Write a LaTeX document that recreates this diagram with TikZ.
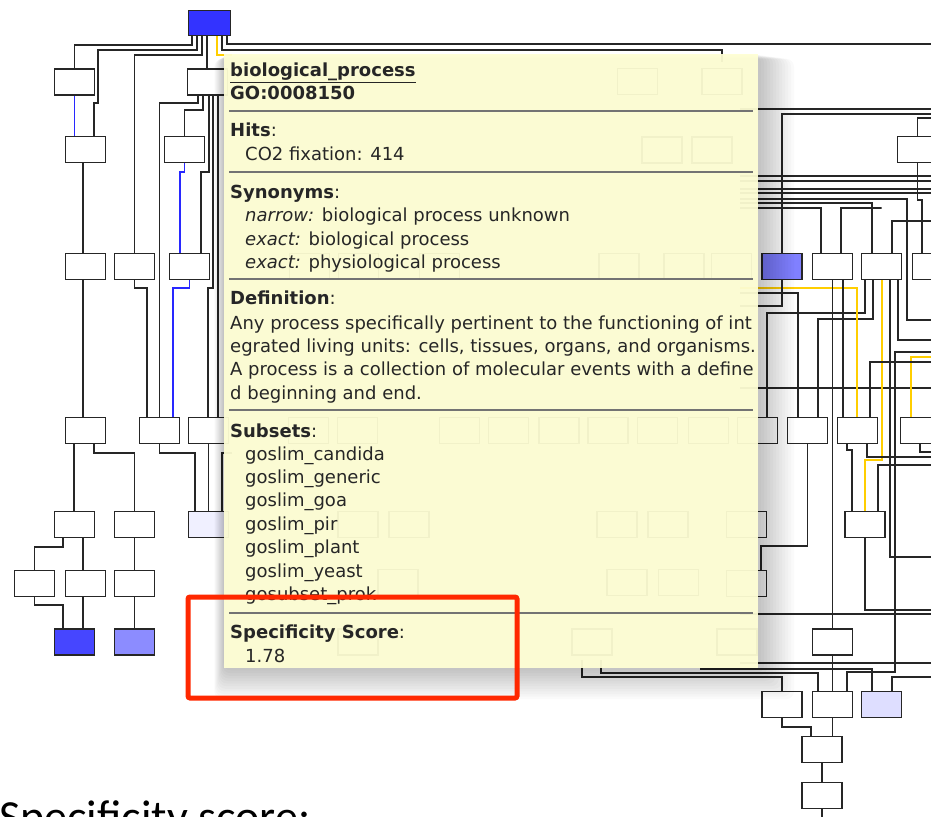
\documentclass[tikz,border=0pt]{standalone}
\usepackage{fontspec}
\newfontfamily\tipfont{DejaVu Sans}
\newfontfamily\slidefont{Carlito}

\definecolor{rootblue}{RGB}{51,51,255}
\definecolor{hitblue}{RGB}{70,70,255}
\definecolor{midblue}{RGB}{140,140,255}
\definecolor{nodeblue}{RGB}{128,128,255}
\definecolor{paleblue}{RGB}{222,222,255}
\definecolor{faintblue}{RGB}{240,240,255}
\definecolor{linkblue}{RGB}{40,40,255}
\definecolor{linkgold}{RGB}{255,206,0}
\definecolor{tipyellow}{RGB}{255,255,212}
\definecolor{markred}{RGB}{255,40,0}
\definecolor{inkgray}{RGB}{38,38,38}

\begin{document}
\begin{tikzpicture}[
        x=1pt, y=-1pt,
        term/.style={draw=black!85, line width=1.5pt, fill=white, minimum width=40pt, minimum height=26pt, inner sep=0pt},
        ghostterm/.style={term, line width=1.2pt},
        edge/.style={draw=black!85, line width=1.5pt},
        blueedge/.style={draw=linkblue, line width=1.3pt},
        goldedge/.style={draw=linkgold, line width=1.3pt},
        tip/.style={anchor=base west, inner sep=0pt, text=inkgray, font=\tipfont\fontsize{18}{22}\selectfont},
        rule/.style={draw=black!55, line width=1.5pt}
    ]
        \useasboundingbox (0,0) rectangle (931,816);
        \clip (0,0) rectangle (931,816);
        \fill[white] (0,0) rectangle (931,816);

        % free ends
        \coordinate (goldin) at (232,55);
        \coordinate (farin) at (722,62);
        \coordinate (westB) at (232,453);
        \coordinate (in582) at (582,660);
        \coordinate (in601) at (601,660);
        \coordinate (in669) at (700,669);
        \coordinate (bottom) at (822,820);
        \foreach \yy in {109,176,181,189,193,199,203,208,288,293,306,388,614,663}
            \coordinate (in\yy) at (740,\yy);
        \foreach \yy in {44,109,114,118,176,181,189,193,221,320,340,352,357,362,388,452,457,465,557,610,614,663,677}
            \coordinate (out\yy) at (935,\yy);

        % left tree
        \node[term, fill=rootblue, minimum width=42pt, minimum height=25pt] (root) at (209.5,23) {};
        \node[term] (A) at (74.5,82) {};
        \node[term] (B) at (207.5,82) {};
        \node[term] (C) at (85.5,149.5) {};
        \node[term] (D) at (184.5,149.5) {};
        \node[term] (n1) at (85.5,266.5) {};
        \node[term] (n2) at (134.5,266.5) {};
        \node[term] (n3) at (189.5,266.5) {};
        \node[term] (m1) at (85.5,430.5) {};
        \node[term] (m2) at (159.5,430.5) {};
        \node[term] (m3) at (208.5,430.5) {};
        \node[term] (k1) at (74.5,524.5) {};
        \node[term] (k2) at (134.5,524.5) {};
        \node[term, fill=faintblue] (k3) at (208.5,524.5) {};
        \node[term] (j1) at (34.5,583.5) {};
        \node[term] (j2) at (85.5,583.5) {};
        \node[term] (j3) at (134.5,583.5) {};
        \node[term, fill=hitblue] (hit1) at (74.5,642) {};
        \node[term, fill=midblue] (hit2) at (134.5,642) {};

        % right tree
        \node[term] (F) at (917.5,149.5) {};
        \node[term, fill=nodeblue] (E) at (782,266.5) {};
        \node[term] (H) at (832.5,266.5) {};
        \node[term] (G) at (881.5,266.5) {};
        \node[term] (S) at (932.5,266.5) {};
        \node[term] (T) at (757.5,430.5) {};
        \node[term] (I) at (807.5,430.5) {};
        \node[term] (K) at (857.5,430.5) {};
        \node[term] (M) at (920.5,430.5) {};
        \node[term] (U) at (746.5,524.5) {};
        \node[term] (L) at (865,524.5) {};
        \node[term] (V) at (746.5,583.5) {};
        \node[term] (J) at (832.5,642) {};
        \node[term] (P) at (782,704.5) {};
        \node[term] (N) at (832.5,704.5) {};
        \node[term, fill=paleblue] (O) at (881.5,704.5) {};
        \node[term] (Q) at (822,749.5) {};
        \node[term] (R) at (822,795.5) {};

        % terms under the tooltip
        \foreach \gx/\gy [count=\g] in {637.5/81.5, 722/81.5, 662/150, 712/150,
                309.5/266.5, 358.5/266.5, 439.5/266.5, 619/266.5, 684/266.5, 731.5/266.5,
                308.5/430.5, 357.5/430.5, 459.5/430.5, 508.5/430.5, 559/430.5, 608/430.5, 657.5/430.5, 708.5/430.5,
                358/524.5, 409/524.5, 617/524.5, 668/524.5,
                398/582.5, 627/582.5, 678.5/582.5,
                358/642, 592/642, 737/642}
            \node[ghostterm] (ghost\g) at (\gx,\gy) {};

        % links, left
        \draw[edge] (root.south -| 192,0) -- (192,45) -| (A.north);
        \draw[edge] (root.south -| 197,0) -- (197,50) -| (98,103) -| (C.north -| 94,0);
        \draw[edge] (root.south -| 202,0) -- (202,55) -| (n2.north);
        \draw[edge] (root.south -| 207,0) -- (B.north -| 207,0);
        \draw[goldedge] (root.south -| 217,0) |- (goldin);
        \draw[edge] (root.south -| 222,0) |- (722,50) -- (farin);
        \draw[edge] (root.south -| 227,0) |- (out44);
        \draw[blueedge] (A.south) -- (A.south |- C.north);
        \draw[edge] (C.south -| 83,0) -- (n1.north -| 83,0);
        \draw[edge] (B.south -| 198,0) -- (198,103) -| (m2.north);
        \draw[edge] (B.south -| 203,0) -- (203,110) -| (D.north);
        \draw[edge] (B.south -| 209,0) -- (209,172) -| (n3.north -| 201,0);
        \draw[edge] (B.south -| 213,0) -- (213,288) -| (m3.north -| 208,0);
        \draw[edge] (B.south -| 218,0) -- (m3.north -| 218,0);
        \draw[blueedge] (D.south) -- (184.5,172) -| (n3.north -| 180,0);
        \draw[edge] (n1.south -| 83,0) -- (m1.north -| 83,0);
        \draw[edge] (n2.south) -- (134.5,288) -| (m2.north -| 147,0);
        \draw[blueedge] (n3.south) -- (189.5,288) -| (m2.north -| 173,0);
        \draw[edge] (m1.south -| 74,0) -- (k1.north -| 74,0);
        \draw[edge] (m1.south -| 94,0) -- (94,453) -| (k2.north);
        \draw[edge] (m2.south) -- (159.5,453) -| (k3.north -| 195,0);
        \draw[edge] (m3.south) -- (k3.north);
        \draw[edge] (westB) -| (k3.north -| 222,0);
        \draw[edge] (k1.south -| 63,0) -- (63,547) -| (j1.north);
        \draw[edge] (k1.south -| 83,0) -- (j2.north -| 83,0);
        \draw[edge] (k2.south) -- (j3.north);
        \draw[edge] (j1.south) -- (34.5,605) -| (hit1.north -| 63,0);
        \draw[edge] (j2.south -| 83,0) -- (hit1.north -| 83,0);
        \draw[edge] (j3.south) -- (hit2.north);

        % links, right
        \foreach \yy in {109,176,181,189,193,388,614,663}
            \draw[edge] (in\yy) -- (out\yy);
        \draw[edge] (E.north) |- (out114);
        \draw[edge] (F.north) |- (out118);
        \draw[edge] (F.south) -- (917.5,200) -| (S.north -| 922,0);
        \draw[edge] (in199) -| (907,320) -- (out320);
        \draw[edge] (in203) -| (G.north -| 872,0);
        \draw[edge] (in208) -| (H.north -| 821,0);
        \draw[edge] (H.north -| 841,0) |- (G.north |- 0,208) -- (872,208);
        \draw[edge] (G.north -| 892,0) |- (out221);
        \draw[edge] (G.south -| 865,0) -- (865,313) -| (T.north -| 767,0);
        \draw[edge] (G.south -| 873,0) -- (873,319) -| (I.north -| 818,0);
        \draw[goldedge] (G.south -| 882,0) -- (882,460) -| (L.north -| 865,0);
        \draw[edge] (G.south -| 890,0) |- (out557);
        \draw[edge] (G.south -| 898,0) |- (out340);
        \draw[edge] (out352) -| (895,672) -| (N.north -| 847,0);
        \draw[goldedge] (M.north -| 911,0) |- (out357);
        \draw[edge] (K.north -| 870,0) |- (out362);
        \draw[goldedge] (in288) -| (K.north -| 857,0);
        \draw[edge] (E.south) |- (in306);
        \draw[edge] (in293) -| (I.north -| 798,0);
        \draw[edge] (H.south) -- (J.north);
        \draw[edge] (H.south -| 843,0) -- (K.north -| 843,0);
        \draw[edge] (K.south -| 847,0) -- (847,450) -| (L.north -| 852,0);
        \draw[edge] (K.south -| 867,0) |- (out457);
        \draw[edge] (out465) -| (L.north -| 878,0);
        \draw[edge] (M.south -| 920,0) |- (out452);
        \draw[edge] (I.south) |- (761,546) -- (V.north -| 761,0);
        \draw[edge] (L.south) |- (out610);
        \draw[edge] (in582) -- (582,677) -| (P.north);
        \draw[edge] (in601) -- (601,673) -| (N.north -| 818,0);
        \draw[edge] (in669) -| (O.north -| 872,0);
        \draw[edge] (out677) -| (O.north -| 892,0);
        \draw[edge] (J.south) -- (N.north);
        \draw[edge] (P.south) -- (782,727) -| (Q.north -| 811,0);
        \draw[edge] (N.south) -- (Q.north -| 832.5,0);
        \draw[edge] (Q.south) -- (R.north);
        \draw[edge] (R.south) -- (bottom);

        % tooltip
        \foreach \s in {1,...,12}
            \fill[black, opacity=0.018, rounded corners=8pt] (224-0.8*\s,54+0.4*\s) rectangle (758+3*\s,668+2.6*\s);
        \fill[tipyellow, fill opacity=0.94] (224,54) rectangle (758,668);
        \foreach \yy in {111,172,279,410,613}
            \draw[rule] (229,\yy) -- (753,\yy);

        \node[tip] (title) at (230,76.5) {\underline{\textbf{biological\_process}}};
        \node[tip] (goid) at (230,99.5) {\textbf{GO:0008150}};
        \node[tip] (hitshead) at (230,136.5) {\textbf{Hits}:};
        \node[tip] (hit) at (245,160) {CO2 fixation: 414};
        \node[tip] (synhead) at (230,198) {\textbf{Synonyms}:};
        \node[tip] (syn1) at (245,221.5) {\textit{narrow:} biological process unknown};
        \node[tip] (syn2) at (245,245) {\textit{exact:} biological process};
        \node[tip] (syn3) at (245,268.5) {\textit{exact:} physiological process};
        \node[tip] (defhead) at (230,304.5) {\textbf{Definition}:};
        \node[tip] (def1) at (230,329) {Any process specifically pertinent to the functioning of int};
        \node[tip] (def2) at (230,352.5) {egrated living units: cells, tissues, organs, and organisms.};
        \node[tip] (def3) at (230,375.5) {A process is a collection of molecular events with a define};
        \node[tip] (def4) at (230,399) {d beginning and end.};
        \node[tip] (subhead) at (230,437) {\textbf{Subsets}:};
        \foreach \sub [count=\i] in {candida,generic,goa,pir,plant,yeast}
            \node[tip] (sub\i) at (245,436.6+23.4*\i) {goslim\_\sub};
        \node[tip] (sub7) at (245,600.4) {gosubset\_prok};
        \node[tip] (scorehead) at (230,638.5) {\textbf{Specificity Score}:};
        \node[tip] (score) at (245,662) {1.78};

        % highlight and caption
        \node[draw=markred, line width=5pt, rounded corners=2pt, minimum width=329pt, minimum height=101pt, inner sep=0pt] (mark) at (352.5,647.5) {};
        \node[anchor=base west, inner sep=0pt, font=\slidefont\fontsize{46}{50}\selectfont] (caption) at (-1,832) {Specificity score:};
    \end{tikzpicture}
\end{document}
